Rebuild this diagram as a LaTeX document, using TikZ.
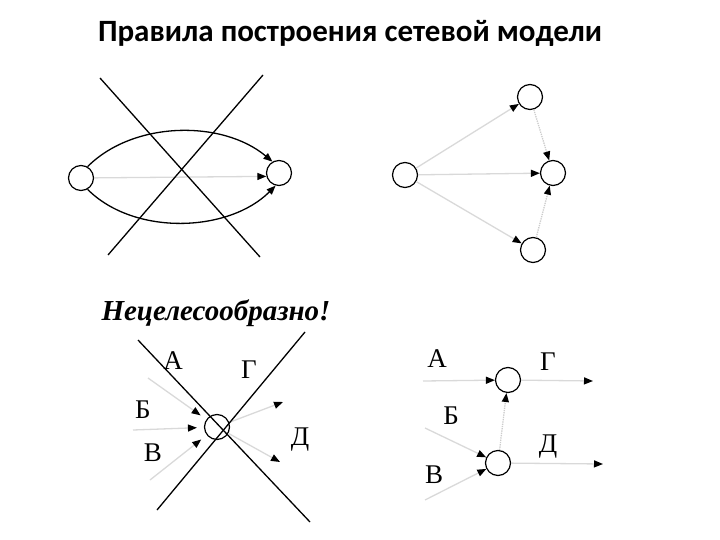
\documentclass[tikz,border=0pt]{standalone}
\usepackage{fontspec}
\setmainfont{Liberation Serif}
\newfontfamily\titlefont{Carlito}
\usetikzlibrary{arrows.meta}

\begin{document}
\begin{tikzpicture}[
    x=1pt, y=1pt,
    vertex/.style = {circle, draw=black, line width=1.2pt, fill=white, minimum size=25pt, inner sep=0pt},
    crossline/.style = {draw=black, line width=1.3pt},
    arc/.style = {draw=black, line width=1.3pt, -{Triangle[length=9pt, width=7pt]}},
    work/.style = {draw=gray!30, line width=1.3pt, -{Triangle[color=black, length=9pt, width=7pt]}},
    dummy/.style = {draw=gray!40, line width=1.3pt, densely dotted, -{Triangle[color=black, length=9pt, width=7pt]}},
    worklabel/.style = {font=\fontsize{27}{30}\selectfont}
]
\useasboundingbox (0,0) rectangle (720,-540);

% Title
\node[anchor=base, font=\titlefont\bfseries\fontsize{31}{34}\selectfont] (title) at (350,-42) {Правила построения сетевой модели};

% Top left: parallel works
\node[vertex] (l1) at (81,-178) {};
\node[vertex] (r1) at (279,-173) {};
\path[arc] (l1.60) to[out=45, in=140, looseness=0.9] (r1.120);
\path[arc] (l1.-60) to[out=-45, in=-135, looseness=0.9] (r1.-105);
\path[work] (l1) -- (r1.195);
\coordinate (x1a) at (100,-78);
\coordinate (x1b) at (260,-257);
\coordinate (x1c) at (263,-75);
\coordinate (x1d) at (108,-255);
\path[crossline] (x1a) -- (x1b);
\path[crossline] (x1c) -- (x1d);

% Top right: dummy works
\node[vertex] (s) at (405,-175) {};
\node[vertex] (t) at (530,-97) {};
\node[vertex] (m) at (553,-173) {};
\node[vertex] (b) at (533,-250) {};
\path[work] (s) -- (t);
\path[work] (s) -- (m);
\path[work] (s) -- (b);
\path[dummy] (t) -- (m);
\path[dummy] (b) -- (m);

% Bottom left: one event for all
\node[font=\bfseries\itshape\fontsize{29}{32}\selectfont] (note) at (216,-313) {Нецелесообразно!};
\node[vertex] (c) at (217,-427) {};
\coordinate (pA) at (148,-378);
\coordinate (pB) at (133,-430);
\coordinate (pV) at (150,-480);
\coordinate (pG) at (283,-402);
\coordinate (pD) at (280,-462);
\path[work, shorten >=7pt] (pA) -- (c);
\path[work, shorten >=7pt] (pB) -- (c);
\path[work, shorten >=7pt] (pV) -- (c);
\path[work] (c) -- (pG);
\path[work] (c) -- (pD);
\node[worklabel] (lA) at (173,-361) {А};
\node[worklabel] (lB) at (143,-410) {Б};
\node[worklabel] (lV) at (153,-453) {В};
\node[worklabel] (lG) at (249,-370) {Г};
\node[worklabel] (lD) at (300,-440) {Д};
\coordinate (x2a) at (138,-340);
\coordinate (x2b) at (310,-522);
\coordinate (x2c) at (305,-332);
\coordinate (x2d) at (157,-510);
\path[crossline] (x2a) -- (x2b);
\path[crossline] (x2c) -- (x2d);

% Bottom right: two events joined by a dummy
\node[vertex] (u) at (508,-380) {};
\node[vertex] (w) at (498,-463) {};
\coordinate (qA) at (423,-381);
\coordinate (qB) at (425,-428);
\coordinate (qV) at (425,-500);
\coordinate (qG) at (593,-381);
\coordinate (qD) at (603,-464);
\path[work] (qA) -- (u);
\path[work] (u) -- (qG);
\path[work] (qB) -- (w);
\path[work] (qV) -- (w);
\path[work] (w) -- (qD);
\path[dummy] (w) -- (u);
\node[worklabel] (rA) at (437,-359) {А};
\node[worklabel] (rB) at (451,-416) {Б};
\node[worklabel] (rV) at (434,-475) {В};
\node[worklabel] (rG) at (548,-362) {Г};
\node[worklabel] (rD) at (548,-447) {Д};

\end{tikzpicture}
\end{document}
